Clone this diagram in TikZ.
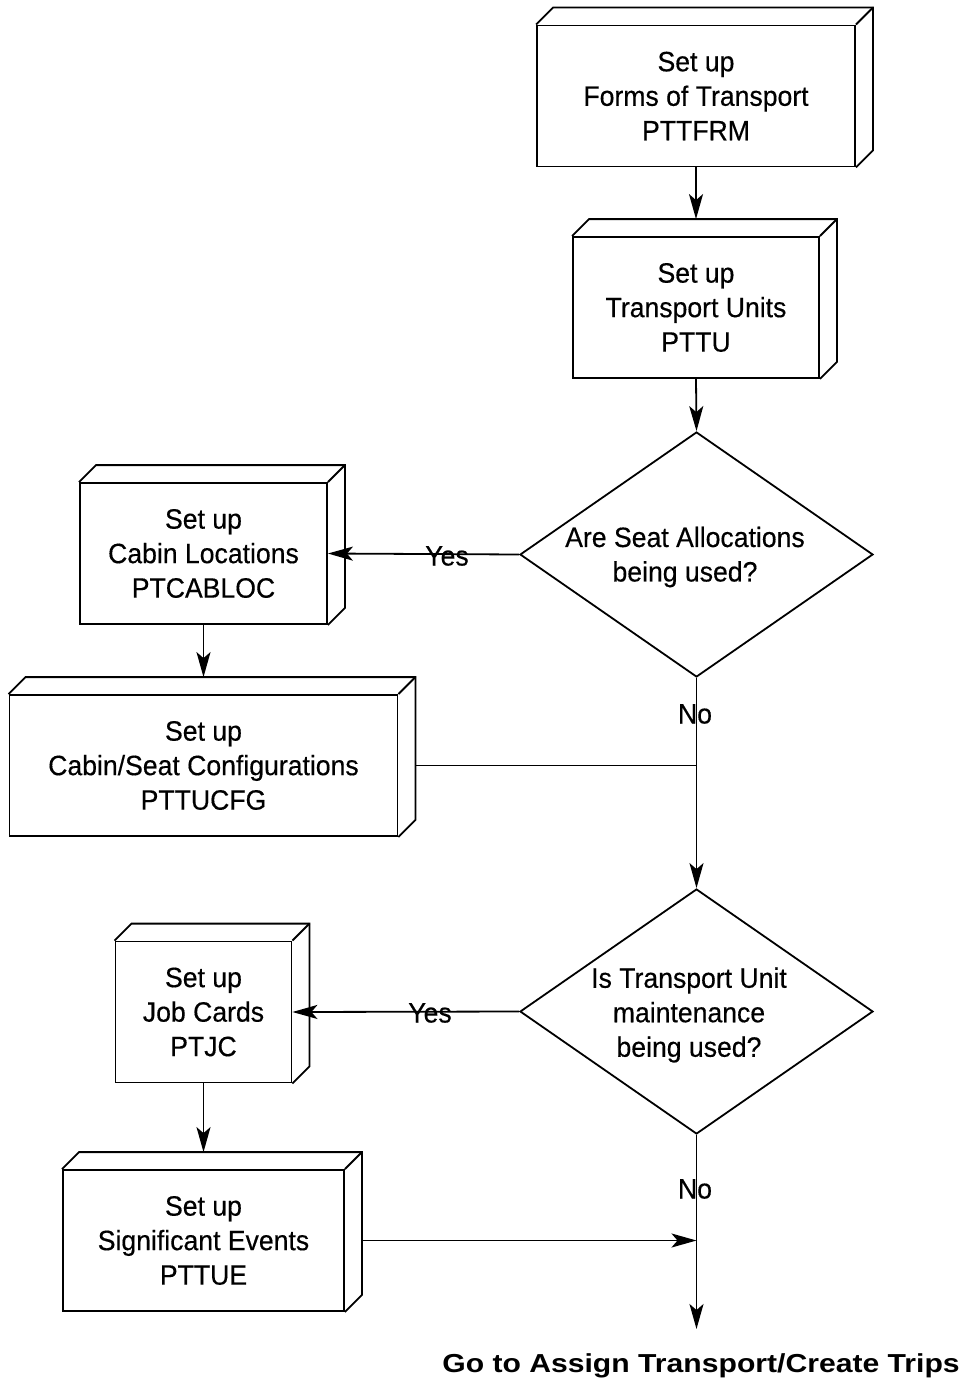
\documentclass[tikz,border=0pt]{standalone}
\usepackage{fontspec}
\setmainfont{Liberation Sans}[FakeStretch=0.95, UprightFeatures={FakeBold=0.4}]
\usepackage{graphicx}
\usetikzlibrary{shapes.geometric,arrows.meta}
\newcommand\boxdepth[1]{%
  \draw (#1.north west) -- ++(17,-17) -| ([shift={(17,-17)}]#1.south east) -- (#1.south east);
  \draw (#1.north east) -- ++(17,-17);}
\begin{document}
\begin{tikzpicture}[x=1pt,y=-1pt,
  line width=1.8pt,
  every node/.style={font=\fontsize{28}{34.5}\selectfont},
  proc/.style={draw, rectangle, inner sep=0pt, align=center, minimum height=141pt},
  decision/.style={draw, diamond, inner sep=0pt, minimum width=353pt, minimum height=245pt},
  dtext/.style={align=center, inner sep=0pt},
  lbl/.style={inner sep=0pt},
  arr/.style={-{Stealth[length=25pt,width=14pt,inset=6pt]}}
]
\useasboundingbox (0,0) rectangle (966,1383);

% process boxes
\node[proc, minimum width=318pt] (b1) at (696,96) {Set up\\Forms of Transport\\PTTFRM};
\node[proc, minimum width=246pt] (b2) at (696,307.5) {Set up\\Transport Units\\PTTU};
\node[proc, minimum width=247pt] (cab) at (203.5,553.5) {Set up\\Cabin Locations\\PTCABLOC};
\node[proc, minimum width=388pt] (cfg) at (203.5,765.5) {Set up\\Cabin/Seat Configurations\\PTTUCFG};
\node[proc, minimum width=176pt] (jc) at (203.5,1012) {Set up\\Job Cards\\PTJC};
\node[proc, minimum width=281pt] (se) at (203.5,1240.5) {Set up\\Significant Events\\PTTUE};
\boxdepth{b1}
\boxdepth{b2}
\boxdepth{cab}
\boxdepth{cfg}
\boxdepth{jc}
\boxdepth{se}

% decisions
\node[decision] (d1) at (696.5,554.5) {};
\node[dtext] (d1t) at (685,557) {Are Seat Allocations\\being used?};
\node[decision] (d2) at (696.5,1011.5) {};
\node[dtext] (d2t) at (689,1015) {Is Transport Unit\\maintenance\\being used?};

% labels
\node[lbl] (yes1) at (447,556) {Yes};
\node[lbl] (yes2) at (430,1013) {Yes};
\node[lbl] (no1) at (695,714) {No};
\node[lbl] (no2) at (695,1189) {No};

\coordinate (end) at (696.5,1329);
\node[anchor=base, inner sep=0pt, font=\fontsize{26}{30}\selectfont\bfseries] (goto) at (701,1372)
  {\scalebox{1.22}[1]{Go to Assign Transport/Create Trips}};

% connectors
\draw[arr] (b1.south) -- ([yshift=17pt]b2.north);
\draw[arr] (b2.south) -- (d1.north);
\draw[arr] (d1.west) -- (cab.east);
\draw[arr] (cab.south) -- ([yshift=17pt]cfg.north);
\draw[arr] (d1.south) -- (d2.north);
\draw ([xshift=17pt]cfg.east) -- (cfg.east -| d1.south);
\draw[arr] (d2.west) -- (jc.east);
\draw[arr] (jc.south) -- ([yshift=17pt]se.north);
\draw[arr] ([xshift=17pt]se.east) -- (se.east -| d2.south);
\draw[arr] (d2.south) -- (end);
\end{tikzpicture}
\end{document}
